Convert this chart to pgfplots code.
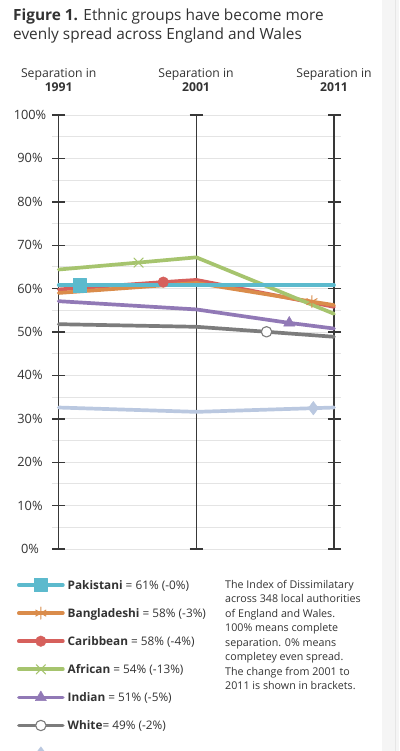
\documentclass[border=0pt]{standalone}
\usepackage{fontspec}
\setmainfont{Open Sans}
\usepackage{pgfplots}
\pgfplotsset{compat=1.18}
\definecolor{textc}{HTML}{333333}
\definecolor{axisdark}{HTML}{383838}
\definecolor{gridc}{HTML}{E4E4E4}
\definecolor{bandc}{HTML}{F5F5F5}
\definecolor{bandline}{HTML}{E6E6E6}
\definecolor{cPak}{HTML}{5CBACD}
\definecolor{cBan}{HTML}{DA8C4B}
\definecolor{cCar}{HTML}{D6605C}
\definecolor{cAfr}{HTML}{A6C46E}
\definecolor{cInd}{HTML}{9179B6}
\definecolor{cWhi}{HTML}{7C7C7C}
\definecolor{cLB}{HTML}{BAC8E0}
\pgfplotsset{
  serie/.style={line width=3.7pt, line cap=round, line join=round},
  sPak/.style={serie, color=cPak, mark=square*, mark size=6.6pt, mark options={solid, line width=0.4pt, fill=cPak, draw=cPak}},
  sBan/.style={serie, color=cBan, mark=asterisk, mark size=6pt, mark options={solid, line width=1pt, draw=cBan}},
  sCar/.style={serie, color=cCar, mark=*, mark size=5.3pt, mark options={solid, line width=0.4pt, fill=cCar, draw=cCar}},
  sAfr/.style={serie, color=cAfr, mark=x, mark size=6.5pt, mark options={solid, line width=1.1pt, draw=cAfr}},
  sInd/.style={serie, color=cInd, mark=triangle*, mark size=6.5pt, mark options={solid, line width=0.4pt, fill=cInd, draw=cInd}},
  sWhi/.style={serie, color=cWhi, mark=*, mark size=5.2pt, mark options={solid, line width=1.1pt, fill=white, draw=cWhi}},
  sLB/.style={serie, color=cLB, mark=diamond*, mark size=6.8pt, mark options={solid, line width=0.4pt, fill=cLB, draw=cLB}},
}
\begin{document}
\begin{tikzpicture}
\path[use as bounding box] (0pt,0pt) rectangle (399pt,-751pt);
\fill[white] (0pt,0pt) rectangle (399pt,-751pt);
\fill[bandc] (382pt,0pt) rectangle (399pt,-751pt);
\draw[bandline, line width=0.8pt] (395.5pt,0pt) -- (395.5pt,-751pt);
% title
\node[anchor=base west, inner sep=0pt, font=\fontsize{15.4}{18}\selectfont, text=textc] at (13pt,-20.5pt) {\textbf{Figure 1.} Ethnic groups have become more};
\node[anchor=base west, inner sep=0pt, font=\fontsize{15.4}{18}\selectfont, text=textc] at (13pt,-40pt) {evenly spread across England and Wales};
% column headers
\foreach \xx/\yr in {58.7/1991, 196/2001, 334/2011} {
  \node[anchor=base, inner sep=0pt, font=\fontsize{12.2}{14}\selectfont, text=textc] at (\xx pt,-77.5pt) {Separation in};
  \node[anchor=base, inner sep=0pt, font=\fontsize{12.2}{14}\selectfont\bfseries, text=textc] at (\xx pt,-91.5pt) {\yr};
}
\begin{axis}[
  at={(52pt,-549pt)}, anchor=south west,
  scale only axis, width=289pt, height=434pt,
  xmin=1990.513, xmax=2011.51, ymin=0, ymax=100,
  axis line style={draw=none},
  xtick={1991,2001,2011}, xticklabels={}, x tick style={draw=none},
  ytick={0,10,...,100}, minor ytick={5,15,...,95},
  ymajorgrids, yminorgrids,
  major grid style={color=gridc, line width=0.9pt},
  minor grid style={color=gridc, line width=0.9pt},
  y tick style={color=axisdark, line width=1.4pt},
  major tick length=13.4pt, minor tick length=0pt,
  tick align=inside, ytick pos=both, yticklabel pos=left,
  yticklabel={\pgfmathprintnumber{\tick}\%},
  /pgf/number format/assume math mode=true,
  yticklabel style={font=\fontsize{12.8}{14}\selectfont, text=textc, anchor=center, xshift=-22pt},
  clip=false,
  legend style={draw=none, fill=none, inner sep=0pt, outer sep=0pt,
    at={(-0.1211,-0.0668)}, anchor=north west,
    row sep=14.1pt, column sep=3pt,
    nodes={inner sep=0pt, text height=8.5pt, text depth=0pt, font=\fontsize{11.8}{13}\selectfont, text=textc}},
  legend cell align=left,
  legend image code/.code={
    \path[draw=none, fill=none] (0pt,-7pt) rectangle (44pt,7pt);
    \draw[#1] plot coordinates {(0pt,0pt) (22pt,0pt) (44pt,0pt)};
  },
]
% vertical lines
\draw[axisdark, line width=1.4pt] (axis cs:1991,0) -- (axis cs:1991,100);
\draw[axisdark, line width=1.4pt] (axis cs:2001,0) -- (axis cs:2001,100);
\draw[axisdark, line width=1.4pt] (axis cs:2011,0) -- (axis cs:2011,100);
\draw[axisdark, line width=1.4pt] (axis cs:2001,0) ++(-6.7pt,0pt) -- ++(13.4pt,0pt);
\draw[axisdark, line width=1.4pt] (axis cs:2001,100) ++(-6.7pt,0pt) -- ++(13.4pt,0pt);
% data (bottom to top)
\addplot[sLB, mark indices={3}, forget plot] coordinates {(1991,32.6) (2001,31.6) (2009.5,32.45) (2011,32.6)};
\addplot[sWhi, mark indices={3}, forget plot] coordinates {(1991,51.8) (2001,51.2) (2006.1,50.05) (2011,48.9)};
\addplot[sInd, mark indices={3}, forget plot] coordinates {(1991,57.1) (2001,55.2) (2007.75,52.1) (2011,50.8)};
\addplot[sCar, mark indices={2}, forget plot] coordinates {(1991,59.8) (1998.6,61.5) (2001,62.0) (2011,55.8)};
\addplot[sBan, mark indices={3}, forget plot] coordinates {(1991,59.0) (2001,61.3) (2009.4,57.0) (2011,56.2)};
\addplot[sAfr, mark indices={2}, forget plot] coordinates {(1991,64.4) (1996.8,66.0) (2001,67.2) (2011,54.2)};
\addplot[sPak, mark indices={2}, forget plot] coordinates {(1991,60.8) (1992.55,60.8) (2001,60.8) (2011,60.8)};
% legend
\addlegendimage{sPak, mark indices={2}}
\addlegendentry{\textbf{Pakistani} = 61\% (-0\%)}
\addlegendimage{sBan, mark indices={2}}
\addlegendentry{\textbf{Bangladeshi} = 58\% (-3\%)}
\addlegendimage{sCar, mark indices={2}}
\addlegendentry{\textbf{Caribbean} = 58\% (-4\%)}
\addlegendimage{sAfr, mark indices={2}}
\addlegendentry{\textbf{African} = 54\% (-13\%)}
\addlegendimage{sInd, mark indices={2}}
\addlegendentry{\textbf{Indian} = 51\% (-5\%)}
\addlegendimage{sWhi, mark indices={2}}
\addlegendentry{\textbf{White}= 49\% (-2\%)}
\addlegendimage{sLB, mark indices={2}}
\addlegendentry{}
\end{axis}
% explanatory text
\foreach \t [count=\i] in {The Index of Dissimilatary, across 348 local authorities, of England and Wales., 100\% means complete, separation. 0\% means, completey even spread., The change from 2001 to, 2011 is shown in brackets.} {
  \node[anchor=base west, inner sep=0pt, font=\fontsize{10.7}{13}\selectfont, text=textc] at (225pt,{-588.3pt-(\i-1)*14.45pt}) {\t};
}
\end{tikzpicture}
\end{document}
